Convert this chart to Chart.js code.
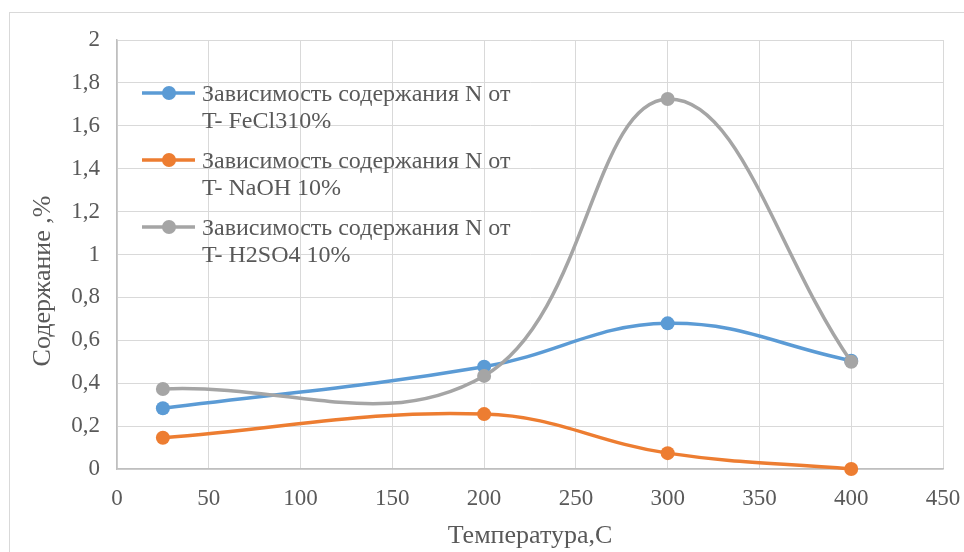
<!DOCTYPE html>
<html>
<head>
<meta charset="utf-8">
<script src="https://cdn.jsdelivr.net/npm/chart.js@4.4.0/dist/chart.umd.min.js"></script>
<style>
  html, body { margin: 0; padding: 0; background: #ffffff; }
  #wrap { position: relative; width: 964px; height: 552px; overflow: hidden; }
  #frame { position: absolute; left: 9px; top: 12px; width: 1000px; height: 600px;
           border-top: 1.5px solid #d9d9d9; border-left: 1.5px solid #d9d9d9; box-sizing: border-box; }
  canvas { position: absolute; left: 0; top: 0; }
</style>
</head>
<body>
<div id="wrap">
  <div id="frame"></div>
  <canvas id="c" width="964" height="552"></canvas>
</div>
<script>
// ---- data ----
const temperatures = [25, 200, 300, 400];
const feCl3Values = [0.283, 0.477, 0.679, 0.505];
const naOHValues  = [0.146, 0.256, 0.074, 0.0];
const h2SO4Values = [0.373, 0.434, 1.725, 0.500];
const seriesLabels = [
  ['Зависимость содержания N от', 'T- FeCl310%'],
  ['Зависимость содержания N от', 'T- NaOH 10%'],
  ['Зависимость содержания N от', 'T- H2SO4 10%']
];
const xTitle = 'Температура,С';
const yTitle = 'Содержание ,%';

const colors = ['#5B9BD5', '#ED7D31', '#A5A5A5'];
const FONT = '"Liberation Serif", "Times New Roman", serif';
const TEXT = '#595959';

function pts(vals) { return temperatures.map((t, i) => ({ x: t, y: vals[i] })); }

const allValues = [feCl3Values, naOHValues, h2SO4Values];
const datasets = allValues.map((vals, i) => ({
  label: seriesLabels[i].join(' '),
  data: pts(vals),
  borderColor: colors[i],
  backgroundColor: colors[i],
  pointBackgroundColor: colors[i],
  pointBorderColor: colors[i],
  borderWidth: 3.5,
  pointRadius: 7,
  pointBorderWidth: 0,
  tension: 0.4,
  clip: false,
  order: 3 - i
}));

const overlay = {
  id: 'overlay',
  afterDraw(chart) {
    const ctx = chart.ctx;
    const a = chart.chartArea;
    ctx.save();
    // legend
    const lx0 = a.left + 25, lx1 = a.left + 78, cx = a.left + 52, tx = a.left + 85;
    ctx.font = '24px ' + FONT;
    ctx.textBaseline = 'middle';
    ctx.textAlign = 'left';
    seriesLabels.forEach((lines, i) => {
      const y = a.top + 53 + i * 67;
      ctx.strokeStyle = colors[i];
      ctx.lineWidth = 3.5;
      ctx.beginPath(); ctx.moveTo(lx0, y); ctx.lineTo(lx1, y); ctx.stroke();
      ctx.fillStyle = colors[i];
      ctx.beginPath(); ctx.arc(cx, y, 7, 0, Math.PI * 2); ctx.fill();
      ctx.fillStyle = TEXT;
      lines.forEach((ln, j) => ctx.fillText(ln, tx, y + 2 + j * 27));
    });
    // axis titles
    ctx.font = '26px ' + FONT;
    ctx.fillStyle = TEXT;
    ctx.textAlign = 'center';
    ctx.fillText(xTitle, (a.left + a.right) / 2, 536);
    ctx.translate(43, 281);
    ctx.rotate(-Math.PI / 2);
    ctx.fillText(yTitle, 0, 0);
    ctx.restore();
  }
};

new Chart(document.getElementById('c'), {
  type: 'line',
  data: { datasets },
  options: {
    responsive: false,
    animation: false,
    layout: { padding: { left: 0, top: 40, right: 21, bottom: 0 } },
    plugins: { legend: { display: false }, tooltip: { enabled: false } },
    scales: {
      x: {
        type: 'linear', min: 0, max: 450,
        afterFit(s) { s.height = 83; s.paddingLeft = 0; s.paddingRight = 0; },
        ticks: { stepSize: 50, padding: 16, color: TEXT, font: { family: FONT, size: 23 } },
        grid: { color: '#d9d9d9', lineWidth: 1, drawTicks: false },
        border: { color: '#bfbfbf', width: 1.5 }
      },
      y: {
        type: 'linear', min: 0, max: 2,
        afterFit(s) { s.width = 117; s.paddingTop = 0; s.paddingBottom = 0; },
        ticks: {
          stepSize: 0.2, padding: 17, color: TEXT, font: { family: FONT, size: 23 },
          callback: v => { const r = Math.round(v * 10) / 10; return (Number.isInteger(r) ? String(r) : r.toFixed(1)).replace('.', ','); }
        },
        grid: { color: '#d9d9d9', lineWidth: 1, drawTicks: false },
        border: { color: '#bfbfbf', width: 1.5 }
      }
    }
  },
  plugins: [overlay]
});
</script>
</body>
</html>
